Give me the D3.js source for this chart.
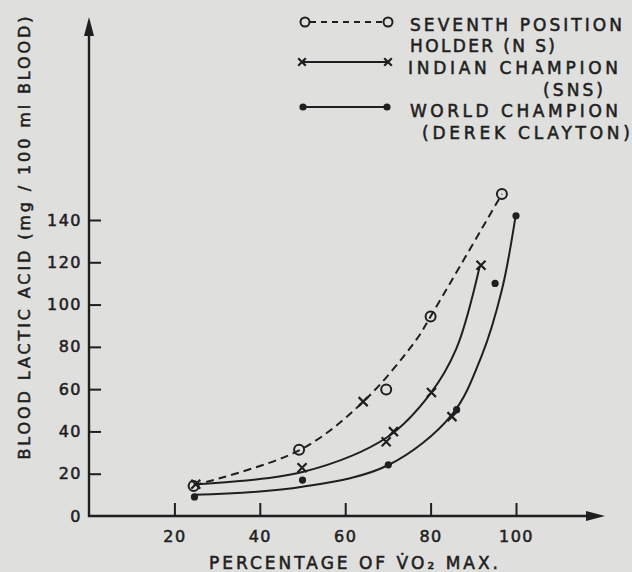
<!DOCTYPE html>
<html><head><meta charset="utf-8">
<script src="https://cdn.jsdelivr.net/npm/d3@7"></script>
<style>html,body{margin:0;padding:0;background:#dfdfdd;} svg{display:block}</style>
</head><body><svg id="c" width="632" height="572"></svg>
<script>
// ---------- data ----------
const xTicks = [20, 40, 60, 80, 100];
const xTickLabels = ["20", "40", "60", "80", "100"];
const yTicks = [0, 20, 40, 60, 80, 100, 120, 140];
const yTickLabels = ["0", "20", "40", "60", "80", "100", "120", "140"];

const seventhName = ["SEVENTH POSITION", "HOLDER (N S)"];
const indianName = ["INDIAN CHAMPION", "(SNS)"];
const worldName = ["WORLD CHAMPION", "(DEREK CLAYTON)"];

// measured points (x = % VO2 max, y = lactic acid mg/100 ml)
const seventhPoints = [[24.5, 14.2], [49.2, 31.3], [69.6, 59.8], [80, 94.4], [96.7, 152.3]];
const indianPoints = [[25, 15], [49.9, 22.8], [69.6, 35.1], [71.3, 39.9], [80.2, 58.4], [91.8, 118.6]];
const worldPoints = [[24.7, 9], [50, 17], [70.1, 24.2], [86.1, 50.3], [95.1, 110], [100, 142]];
const strayCrosses = [[64.2, 54.1], [85, 47]];

// hand-fitted curves
const seventhCurve = [[24.5, 14.5], [49.2, 31], [64.2, 54], [76.7, 83.5], [80, 94.4], [96.7, 152.3]];
const indianCurve = [[25, 15], [50, 20.8], [70, 37.5], [80, 58], [86, 79], [91.5, 118]];
const worldCurve = [[24.7, 10], [50, 13.8], [70, 24], [85, 48], [92, 76], [96.7, 107], [99.8, 140.5]];

const axisLabelY = "BLOOD LACTIC ACID (mg / 100 ml BLOOD)";
const axisLabelX = "PERCENTAGE OF V\u0307O\u2082 MAX.";

// ---------- drawing ----------
const ink = "#1f1f1f";
const bg = "#dfdfdd";
const font = "DejaVu Sans, sans-serif";
const svg = d3.select("#c");
svg.append("rect").attr("width", 632).attr("height", 572).attr("fill", bg);

const x = d3.scaleLinear().domain([0, 100]).range([89, 516]);
const y = d3.scaleLinear().domain([0, 140]).range([516, 220]);
const x0 = x(0), y0 = y(0);

function inkText(sel) {
  return sel.attr("font-family", font).attr("fill", ink).attr("stroke", ink).attr("stroke-width", 0.55);
}

// axes lines
svg.append("line").attr("x1", x0).attr("x2", x0).attr("y1", y0 + 1).attr("y2", 30)
  .attr("stroke", ink).attr("stroke-width", 2.4);
svg.append("path").attr("d", `M${x0},17 L${x0 - 5},36 L${x0 + 5},36 Z`).attr("fill", ink);
svg.append("line").attr("x1", x0 - 1).attr("x2", 592).attr("y1", y0).attr("y2", y0)
  .attr("stroke", ink).attr("stroke-width", 2.4);
svg.append("path").attr("d", `M605,${y0} L586,${y0 - 5} L586,${y0 + 5} Z`).attr("fill", ink);

// ticks (inward)
const gx = svg.append("g").attr("transform", `translate(0,${y0})`)
  .call(d3.axisBottom(x).tickValues(xTicks).tickSize(-13).tickFormat((d, i) => xTickLabels[i]).tickPadding(15));
gx.select(".domain").remove();
gx.selectAll(".tick line").attr("stroke", ink).attr("stroke-width", 2);
inkText(gx.selectAll(".tick text")).attr("font-size", 16).attr("letter-spacing", 1.5).attr("dy", "0.71em");

const gy = svg.append("g").attr("transform", `translate(${x0},0)`)
  .call(d3.axisLeft(y).tickValues(yTicks).tickSize(-12).tickFormat((d, i) => yTickLabels[i]).tickPadding(7));
gy.select(".domain").remove();
gy.selectAll(".tick line").attr("stroke", ink).attr("stroke-width", 2).attr("opacity", d => d === 0 ? 0 : 1);
inkText(gy.selectAll(".tick text")).attr("font-size", 16).attr("letter-spacing", 1.5);

// curves
const line = d3.line().x(d => x(d[0])).y(d => y(d[1])).curve(d3.curveCatmullRom.alpha(0.5));
svg.append("path").attr("d", line(seventhCurve)).attr("fill", "none").attr("stroke", ink)
  .attr("stroke-width", 2).attr("stroke-dasharray", "8,5");
svg.append("path").attr("d", line(indianCurve)).attr("fill", "none").attr("stroke", ink).attr("stroke-width", 2);
svg.append("path").attr("d", line(worldCurve)).attr("fill", "none").attr("stroke", ink).attr("stroke-width", 2);

// markers
function cross(g, cx, cy, s) {
  g.append("path").attr("d", `M${cx - s},${cy - s}L${cx + s},${cy + s}M${cx - s},${cy + s}L${cx + s},${cy - s}`)
    .attr("stroke", ink).attr("stroke-width", 2.2).attr("fill", "none");
}
const mk = svg.append("g");
worldPoints.forEach(p => mk.append("circle").attr("cx", x(p[0])).attr("cy", y(p[1])).attr("r", 3.6).attr("fill", ink));
indianPoints.forEach(p => cross(mk, x(p[0]), y(p[1]), 4.5));
strayCrosses.forEach(p => cross(mk, x(p[0]), y(p[1]), 4.5));
seventhPoints.forEach(p => mk.append("circle").attr("cx", x(p[0])).attr("cy", y(p[1])).attr("r", 5)
  .attr("fill", "none").attr("stroke", ink).attr("stroke-width", 2));

// axis labels
inkText(svg.append("text")).attr("transform", "translate(30,238) rotate(-90)").attr("text-anchor", "middle")
  .attr("font-size", 16)
  .attr("textLength", 443).attr("lengthAdjust", "spacing").text(axisLabelY);
inkText(svg.append("text")).attr("x", 209).attr("y", 569).attr("font-size", 17)
  .attr("textLength", 289).attr("lengthAdjust", "spacing").text(axisLabelX);

// legend
const lg = svg.append("g");
lg.append("line").attr("x1", 310).attr("x2", 383).attr("y1", 22).attr("y2", 22)
  .attr("stroke", ink).attr("stroke-width", 2).attr("stroke-dasharray", "6,5");
[305, 388].forEach(cx => lg.append("circle").attr("cx", cx).attr("cy", 22).attr("r", 4.5)
  .attr("fill", bg).attr("stroke", ink).attr("stroke-width", 2));
lg.append("line").attr("x1", 302).attr("x2", 388).attr("y1", 62).attr("y2", 62).attr("stroke", ink).attr("stroke-width", 2);
[302, 388].forEach(cx => cross(lg, cx, 62, 3.8));
lg.append("line").attr("x1", 303).attr("x2", 387).attr("y1", 107).attr("y2", 107).attr("stroke", ink).attr("stroke-width", 2);
[303, 387].forEach(cx => lg.append("circle").attr("cx", cx).attr("cy", 107).attr("r", 3.6).attr("fill", ink));

const legendText = [
  [seventhName[0], 410, 31, 212], [seventhName[1], 410, 52, 145],
  [indianName[0], 408, 74, 210], [indianName[1], 543, 96, 60],
  [worldName[0], 410, 117, 208], [worldName[1], 422, 139, 208]
];
legendText.forEach(t => inkText(lg.append("text")).attr("x", t[1]).attr("y", t[2])
  .attr("font-size", 17)
  .attr("textLength", t[3]).attr("lengthAdjust", "spacing").text(t[0]));
</script>
</body></html>
